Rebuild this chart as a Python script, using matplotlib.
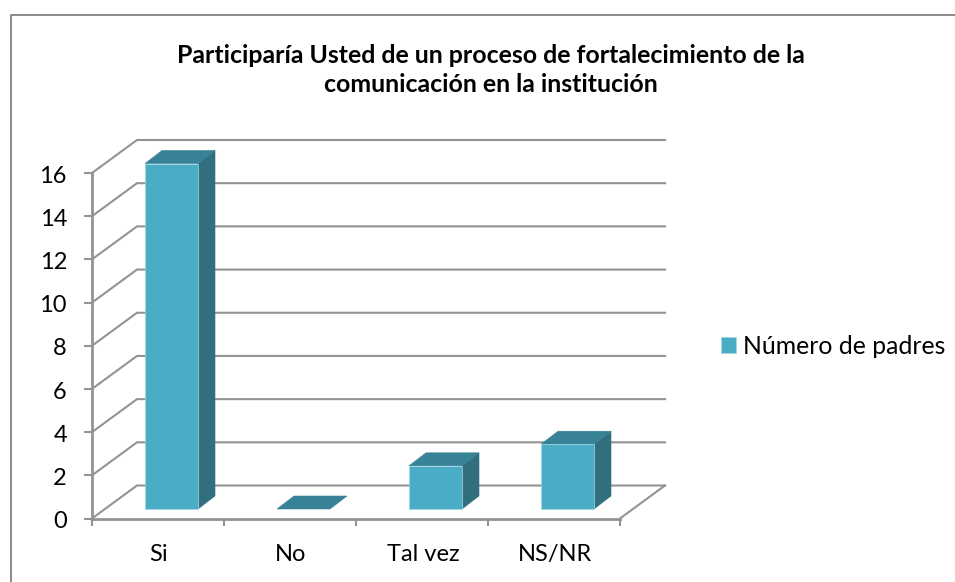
## Participation chart, fake 3D columns on a plain 2D axes

import matplotlib
matplotlib.use('Agg')
import matplotlib.pyplot as plt
from matplotlib.lines import Line2D
from matplotlib.patches import Polygon
from matplotlib.transforms import ScaledTranslation

plt.rcParams['font.family'] = ['Lato', 'DejaVu Sans']

# Data
categories = ['Si', 'No', 'Tal vez', 'NS/NR']
values = [16, 0, 2, 3]
series_name = 'Número de padres'
y_ticks = [0, 2, 4, 6, 8, 10, 12, 14, 16]
title = 'Participaría Usted de un proceso de fortalecimiento de la\ncomunicación en la institución'

W, H = 955, 582
fig = plt.figure(figsize=(W / 100, H / 100), dpi=100)

# Front plane of the chart box, in pixels
left, right, top, bottom = 92, 620, 173, 518.5
ax = fig.add_axes([left / W, 1 - bottom / H, (right - left) / W, (bottom - top) / H])
ax.set_xlim(-0.5, 3.5)
ax.set_ylim(0, 16)
ax.patch.set_alpha(0)

# Pixel sizes to data units
px_x = 4 / (right - left)
px_y = 16 / (bottom - top)

GRID = '#939393'
FRONT = '#4bacc6'
SIDE = '#316f7f'
TOP = '#388297'
EDGE = '#a3d6e4'

# Depth of the box, shift of the bars into it, depth of a bar
dx, dy = 45 * px_x, 33 * px_y
sx, sy = 13.5 * px_x, 9.5 * px_y
bx, by = 17 * px_x, 13 * px_y
bar_w = 53 * px_x

# Walls
x0, x1 = ax.get_xlim()
for t in y_ticks:
    ax.plot([x0, x0 + dx, x1 + dx], [t, t + dy, t + dy], color=GRID, lw=1.5, clip_on=False, zorder=1)
ax.plot([x1, x1 + dx], [0, dy], color=GRID, lw=1.5, clip_on=False, zorder=1)

# Bars
xs = range(len(categories))
for x, v in zip(xs, values):
    l = x + sx - bar_w / 2
    r = l + bar_w
    b = sy
    t = sy + v
    if v > 0:
        ax.bar(x + sx, v, width=bar_w, bottom=sy, color=FRONT, edgecolor=EDGE, linewidth=0.5, zorder=4, clip_on=False)
        ax.add_patch(Polygon([(r, b), (r + bx, b + by), (r + bx, t + by), (r, t)],
                             facecolor=SIDE, edgecolor=SIDE, lw=0.4, zorder=3, clip_on=False))
    ax.add_patch(Polygon([(l, t), (l + bx, t + by), (r + bx, t + by), (r, t)],
                         facecolor=TOP, edgecolor=TOP, lw=0.4, zorder=3, clip_on=False))

# Axes
for s in ['top', 'right']:
    ax.spines[s].set_visible(False)
for s in ['left', 'bottom']:
    ax.spines[s].set_color(GRID)
    ax.spines[s].set_linewidth(2)
ax.set_yticks(y_ticks)
ax.set_xticks([x0, 0.5, 1.5, 2.5, x1])
ax.set_xticklabels([])
ax.tick_params(axis='y', length=6, width=1.5, color=GRID, labelsize=17, pad=12, labelcolor='black')
ax.tick_params(axis='x', length=5, width=1.5, color=GRID)
# tick labels sit about a pixel lower in the reference
shift = ScaledTranslation(0, -1.2 / 100, fig.dpi_scale_trans)
for lab in ax.get_yticklabels():
    lab.set_transform(lab.get_transform() + shift)
for x, c in zip(xs, categories):
    ax.annotate(c, (x, 0), xytext=(1, -36), textcoords='offset pixels', ha='center', va='center', fontsize=17)

# Legend
handle = plt.Rectangle((0, 0), 1, 1, facecolor=FRONT, edgecolor=EDGE, lw=0.4)
fig.legend([handle], [series_name], loc='center left', bbox_to_anchor=(721 / W, 1 - 346 / H), frameon=False,
           fontsize=17.8, handlelength=0.6, handleheight=0.6, handletextpad=0.3, borderpad=0, borderaxespad=0)

# Title
fig.text(491 / W, 1 - 70 / H, title, ha='center', va='center', fontsize=17.9, fontweight='bold', linespacing=1.36)

# Outer frame
fig.add_artist(Line2D([11 / W, 11 / W, 1], [0, 1 - 14.5 / H, 1 - 14.5 / H], color='#8a8a8a', lw=1.4))

fig.savefig('out.png', dpi=100)
